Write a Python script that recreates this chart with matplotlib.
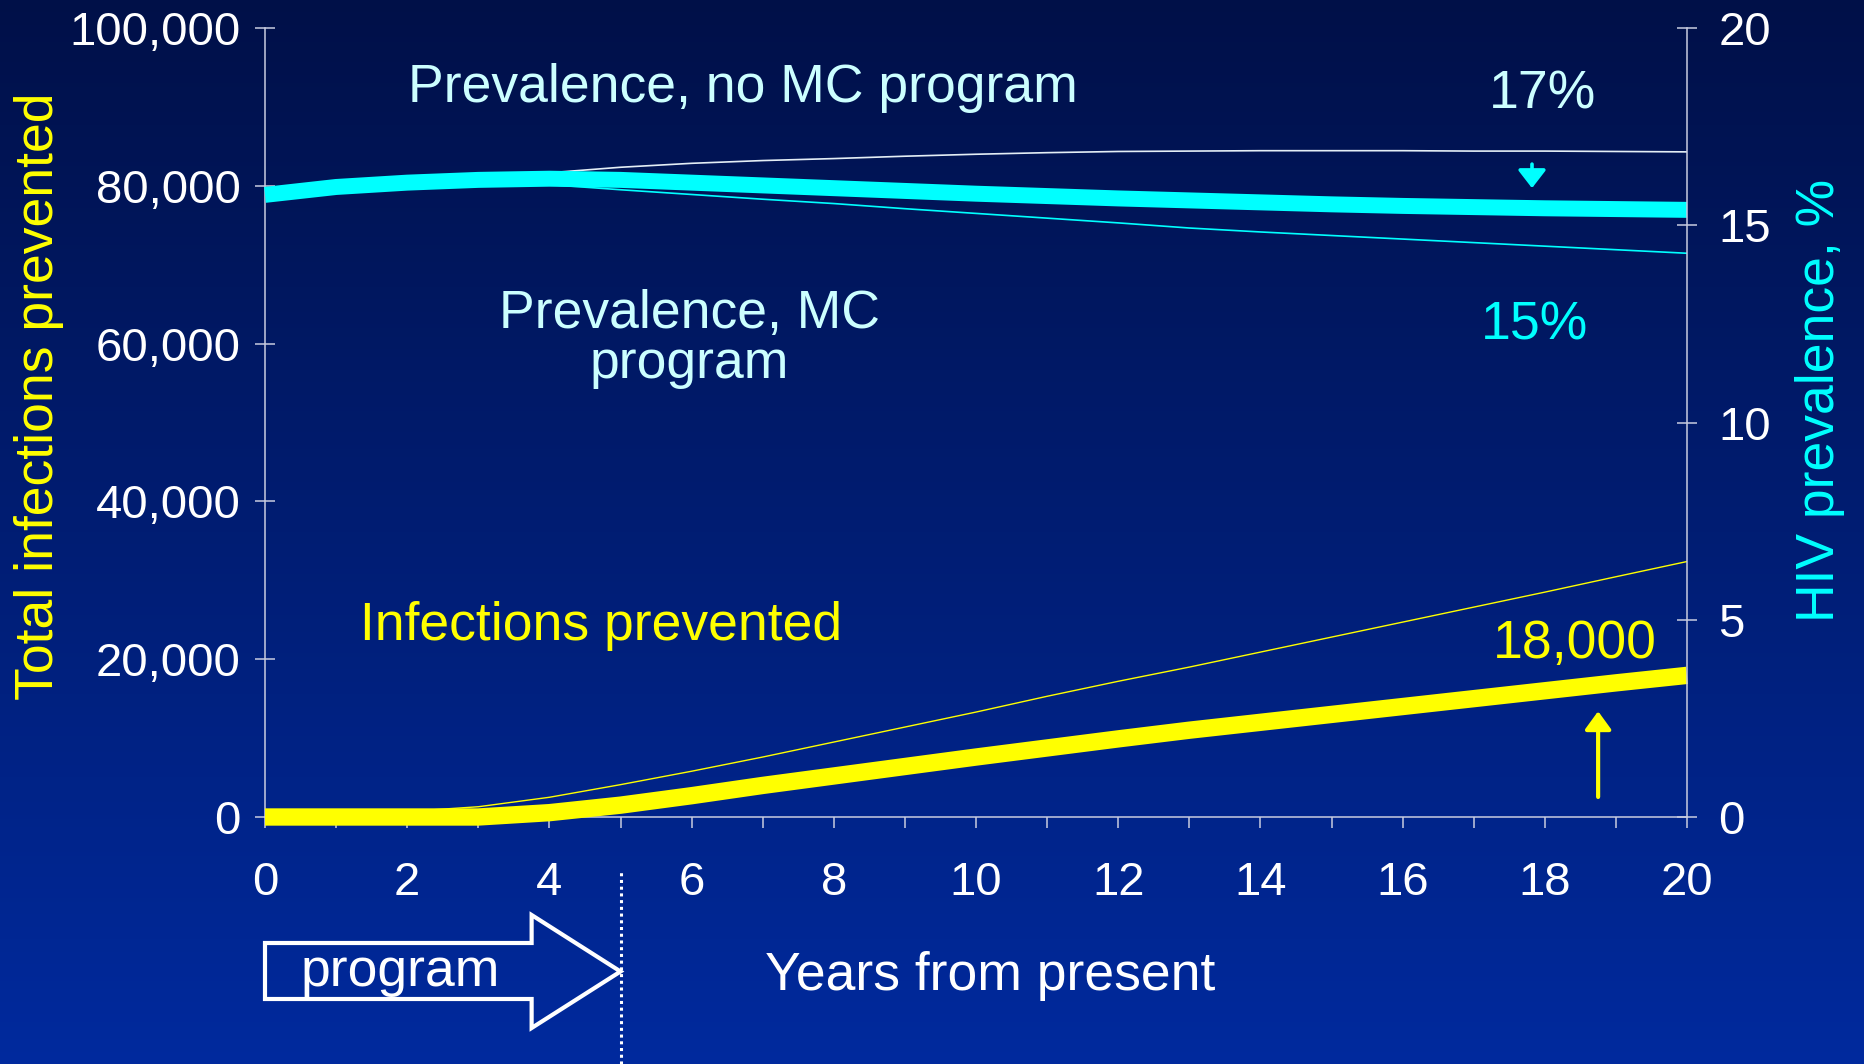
import numpy as np
import matplotlib
matplotlib.use("Agg")
import matplotlib.pyplot as plt
import matplotlib.transforms as mtransforms
from matplotlib.patches import Polygon, FancyArrowPatch
from matplotlib.ticker import FuncFormatter, MultipleLocator

plt.rcParams['font.family'] = ['Liberation Sans', 'DejaVu Sans']

years = np.arange(0, 21)

# total infections prevented (left axis)
prevented = [0, 0, 0, 0, 550, 1500, 2700, 4000, 5200, 6400, 7600,
             8750, 9900, 11000, 12000, 13000, 14000, 15000, 16000, 17000, 17950]
prevented_upper = [0, 150, 700, 1300, 2500, 4100, 5800, 7600, 9500, 11400, 13300,
                   15300, 17200, 19000, 20900, 22800, 24700, 26600, 28500, 30450, 32380]

# HIV prevalence, % (right axis)
prev_main = [15.77, 15.97, 16.08, 16.15, 16.18, 16.15, 16.08, 16.01, 15.94, 15.87, 15.80,
             15.74, 15.68, 15.63, 15.58, 15.53, 15.49, 15.46, 15.43, 15.41, 15.39]
prev_no_mc = [15.77, 15.97, 16.08, 16.15, 16.33, 16.47, 16.57, 16.64, 16.69, 16.75, 16.80,
              16.84, 16.87, 16.88, 16.89, 16.89, 16.89, 16.88, 16.88, 16.87, 16.86]
prev_mc = [15.77, 15.97, 16.08, 16.15, 16.03, 15.90, 15.78, 15.66, 15.55, 15.42, 15.30,
           15.18, 15.06, 14.93, 14.83, 14.74, 14.65, 14.56, 14.47, 14.38, 14.29]

x_ticks = list(range(0, 21, 2))
left_ticks = [0, 20000, 40000, 60000, 80000, 100000]
right_ticks = [0, 5, 10, 15, 20]

axis_col = '#c8cce0'
pale_cyan = '#ccffff'
fs = 38.5

fig = plt.figure(figsize=(18.64, 10.64), dpi=100)

# background gradient
bg = fig.add_axes([0, 0, 1, 1], zorder=-10)
grad = np.linspace(0, 1, 256)[:, None]
top = np.array([0, 16, 72]) / 255
bot = np.array([0, 42, 158]) / 255
img = top[None, None, :] * (1 - grad[:, :, None]) + bot[None, None, :] * grad[:, :, None]
bg.imshow(img, aspect='auto', extent=[0, 1, 0, 1])
bg.axis('off')

W, H = 1864, 1064
ax = fig.add_axes([265 / W, 1 - 817 / H, (1687 - 265) / W, (817 - 28) / H])
ax.patch.set_alpha(0)
ax2 = ax.twinx()

# infections prevented
ax.plot(years, prevented_upper, color='yellow', lw=1.0)
ax.plot(years, prevented, color='yellow', lw=12.5, solid_capstyle='butt',
        solid_joinstyle='round', clip_on=False, zorder=3)

# prevalence
ax2.plot(years, prev_no_mc, color='#e4eef6', lw=1.2)
ax2.plot(years, prev_mc, color='cyan', lw=1.2)
ax2.plot(years, prev_main, color='cyan', lw=11.5, solid_capstyle='butt',
         solid_joinstyle='round', clip_on=False)

ax.set_xlim(0, 20)
ax.set_ylim(0, 100000)
ax2.set_ylim(0, 20)

ax.set_xticks(x_ticks)
ax.xaxis.set_minor_locator(MultipleLocator(1))
ax.set_yticks(left_ticks)
ax.yaxis.set_major_formatter(FuncFormatter(lambda v, p: f'{v:,.0f}'))
ax2.set_yticks(right_ticks)

ax.tick_params(axis='x', which='both', direction='out', length=8, width=1.1,
               color=axis_col, pad=24, labelsize=34, labelcolor='white')
ax.tick_params(axis='y', direction='inout', length=15, width=1.1,
               color=axis_col, pad=10, labelsize=34, labelcolor='white')
ax2.tick_params(axis='y', direction='inout', length=15, width=1.1,
                color=axis_col, pad=15, labelsize=34, labelcolor='white')

for s in ('left', 'bottom'):
    ax.spines[s].set_color(axis_col)
    ax.spines[s].set_linewidth(1.1)
ax.spines['top'].set_visible(False)
ax.spines['right'].set_visible(False)
for s in ('top', 'left', 'bottom'):
    ax2.spines[s].set_visible(False)
ax2.spines['right'].set_color(axis_col)
ax2.spines['right'].set_linewidth(1.1)

# axis titles
fig.text(39 / W, 1 - 396 / H, 'Total infections prevented', rotation=90,
         ha='center', va='center', color='yellow', fontsize=fs)
fig.text(1820 / W, 1 - 400 / H, 'HIV prevalence, %', rotation=90,
         ha='center', va='center', color='cyan', fontsize=fs)

# annotations (left-axis data coordinates)
ax.text(6.72, 90670, 'Prevalence, no MC program', ha='center', va='baseline',
        color=pale_cyan, fontsize=fs)
ax.text(5.97, 62040, 'Prevalence, MC', ha='center', va='baseline',
        color=pale_cyan, fontsize=fs)
ax.text(5.97, 55640, 'program', ha='center', va='baseline',
        color=pale_cyan, fontsize=fs)
ax.text(4.73, 22430, 'Infections prevented', ha='center', va='baseline',
        color='yellow', fontsize=fs)
ax.text(17.97, 89820, '17%', ha='center', va='baseline', color=pale_cyan, fontsize=fs)
ax.text(17.85, 60540, '15%', ha='center', va='baseline', color='cyan', fontsize=fs)
ax.text(18.42, 20110, '18,000', ha='center', va='baseline', color='yellow', fontsize=fs)

# arrows
down = FancyArrowPatch((17.82, 16.55), (17.82, 15.94), transform=ax2.transData,
                       arrowstyle='-|>,head_length=11,head_width=8.5', mutation_scale=1,
                       color='cyan', lw=2.6, shrinkA=0, shrinkB=0)
ax2.add_patch(down)
up = FancyArrowPatch((18.75, 2540), (18.75, 13400), transform=ax.transData,
                     arrowstyle='-|>,head_length=11,head_width=8', mutation_scale=1,
                     color='yellow', lw=3, shrinkA=0, shrinkB=0)
ax.add_patch(up)

# program period: dotted line and block arrow below the axis
program_end = 5
blend = mtransforms.blended_transform_factory(ax.transData, fig.transFigure)
ax.plot([program_end, program_end], [0, 1 - 871 / H], transform=blend, clip_on=False,
        color='white', lw=2.2, linestyle=(0, (1, 1.2)))

body_top, body_bot = 1 - 943 / H, 1 - 999 / H
head_top, head_bot = 1 - 915 / H, 1 - 1028 / H
tip_y = 1 - 971.5 / H
head_x = 3.75
arrow_pts = [(0, body_top), (head_x, body_top), (head_x, head_top), (program_end, tip_y),
             (head_x, head_bot), (head_x, body_bot), (0, body_bot)]
ax.add_patch(Polygon(arrow_pts, closed=True, transform=blend, clip_on=False,
                     facecolor='none', edgecolor='white', lw=3, joinstyle='miter'))
fig.text(400 / W, 1 - 986 / H, 'program', ha='center', va='baseline',
         color='white', fontsize=fs)

fig.text(990 / W, 1 - 990 / H, 'Years from present', ha='center', va='baseline',
         color='white', fontsize=fs)

fig.savefig('out.png', dpi=100)
